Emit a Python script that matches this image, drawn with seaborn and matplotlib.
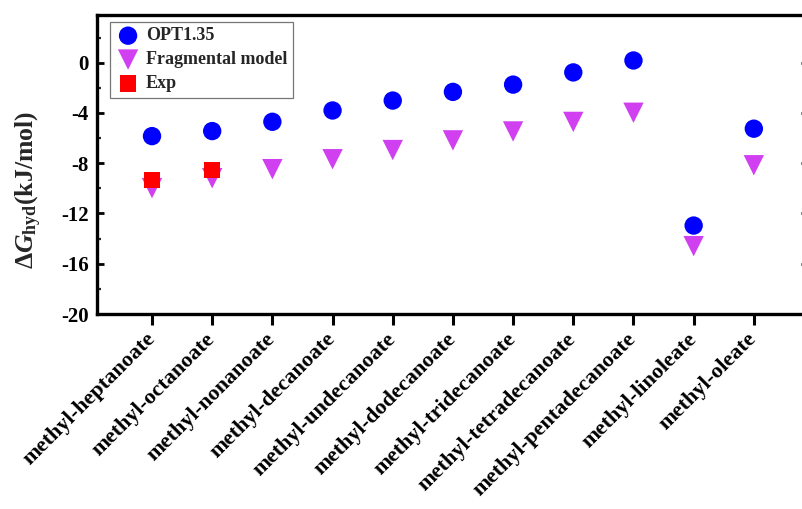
import numpy as np
import pandas as pd
import matplotlib
matplotlib.use("Agg")
import matplotlib.pyplot as plt
from matplotlib.ticker import MultipleLocator
import seaborn as sns

# Hydration free energies (kJ/mol) of fatty-acid methyl esters
compounds = [
    "methyl-heptanoate", "methyl-octanoate", "methyl-nonanoate",
    "methyl-decanoate", "methyl-undecanoate", "methyl-dodecanoate",
    "methyl-tridecanoate", "methyl-tetradecanoate", "methyl-pentadecanoate",
    "methyl-linoleate", "methyl-oleate",
]
opt135 = [-5.84, -5.44, -4.70, -3.80, -3.01, -2.32, -1.74, -0.77, 0.18, -12.96, -5.25]
fragmental = [-9.98, -9.19, -8.47, -7.68, -6.95, -6.18, -5.47, -4.71, -3.98, -14.6, -8.16]
exp_names = ["methyl-heptanoate", "methyl-octanoate"]
exp_values = [-9.35, -8.55]

y_ticks = [-20, -16, -12, -8, -4, 0]

sns.set_theme(style="ticks")
plt.rcParams["font.family"] = ["Liberation Serif", "DejaVu Serif"]
plt.rcParams["font.weight"] = "bold"
plt.rcParams["mathtext.fontset"] = "custom"
plt.rcParams["mathtext.rm"] = "Liberation Serif:bold"
plt.rcParams["mathtext.it"] = "Liberation Serif:italic:bold"
plt.rcParams["mathtext.bf"] = "Liberation Serif:bold"

pos = {name: i for i, name in enumerate(compounds)}
df_opt = pd.DataFrame({"x": [pos[c] for c in compounds], "y": opt135})
df_frag = pd.DataFrame({"x": [pos[c] for c in compounds], "y": fragmental})
df_exp = pd.DataFrame({"x": [pos[c] for c in exp_names], "y": exp_values})

fig = plt.figure(figsize=(8.02, 5.09), dpi=100)
left_px, right_px, top_px, bottom_px = 97, 808, 15, 314
ax = fig.add_axes([left_px / 802, 1 - bottom_px / 509,
                   (right_px - left_px) / 802, (bottom_px - top_px) / 509])

sns.scatterplot(data=df_opt, x="x", y="y", ax=ax, marker="o", s=175,
                color="#0000FF", edgecolor="none", label="OPT1.35", zorder=3)
sns.scatterplot(data=df_frag, x="x", y="y", ax=ax, marker="v", s=215,
                color="#D040F0", edgecolor="none", label="Fragmental model", zorder=3)
sns.scatterplot(data=df_exp, x="x", y="y", ax=ax, marker="s", s=140,
                color="#FF0000", edgecolor="none", label="Exp", zorder=4)

ax.set_xlim(-0.914, 10.9)
ax.set_ylim(-20, 3.8)
ax.set_xticks(range(len(compounds)))
ax.set_xticklabels(compounds, rotation=45, ha="right", va="center",
                   rotation_mode="anchor", fontsize=16, fontweight="bold")
ax.set_yticks(y_ticks)
ax.set_yticklabels([str(v) for v in y_ticks], fontsize=15, fontweight="bold")
ax.yaxis.set_minor_locator(MultipleLocator(2))

for side in ["left", "right", "top", "bottom"]:
    ax.spines[side].set_visible(True)
    ax.spines[side].set_linewidth(2.4)
    ax.spines[side].set_color("black")

ax.tick_params(axis="x", which="major", direction="out", length=8, width=2.2,
               pad=8, top=False, colors="black")
ax.tick_params(axis="y", which="major", direction="in", length=5, width=2.0,
               pad=6, left=True, right=True, colors="black")
ax.tick_params(axis="y", which="minor", direction="in", length=3, width=1.6,
               left=True, right=False)

ax.set_xlabel("")
ax.set_ylabel(r"$\Delta G_{\rm hyd}$(kJ/mol)", fontsize=18.5, fontweight="bold")
ax.yaxis.set_label_coords((44 - left_px) / (right_px - left_px),
                          (bottom_px - 190) / (bottom_px - top_px))

leg = ax.legend(loc="upper left", bbox_to_anchor=(13 / (right_px - left_px), 1 - 7 / (bottom_px - top_px)),
                borderaxespad=0, frameon=True, fancybox=False, edgecolor="#555555",
                prop={"weight": "bold", "size": 13}, handletextpad=0.3,
                borderpad=0.3, labelspacing=0.38, handlelength=1.4)
leg.get_frame().set_linewidth(0.9)

fig.savefig("out.png", dpi=100, facecolor="white")
